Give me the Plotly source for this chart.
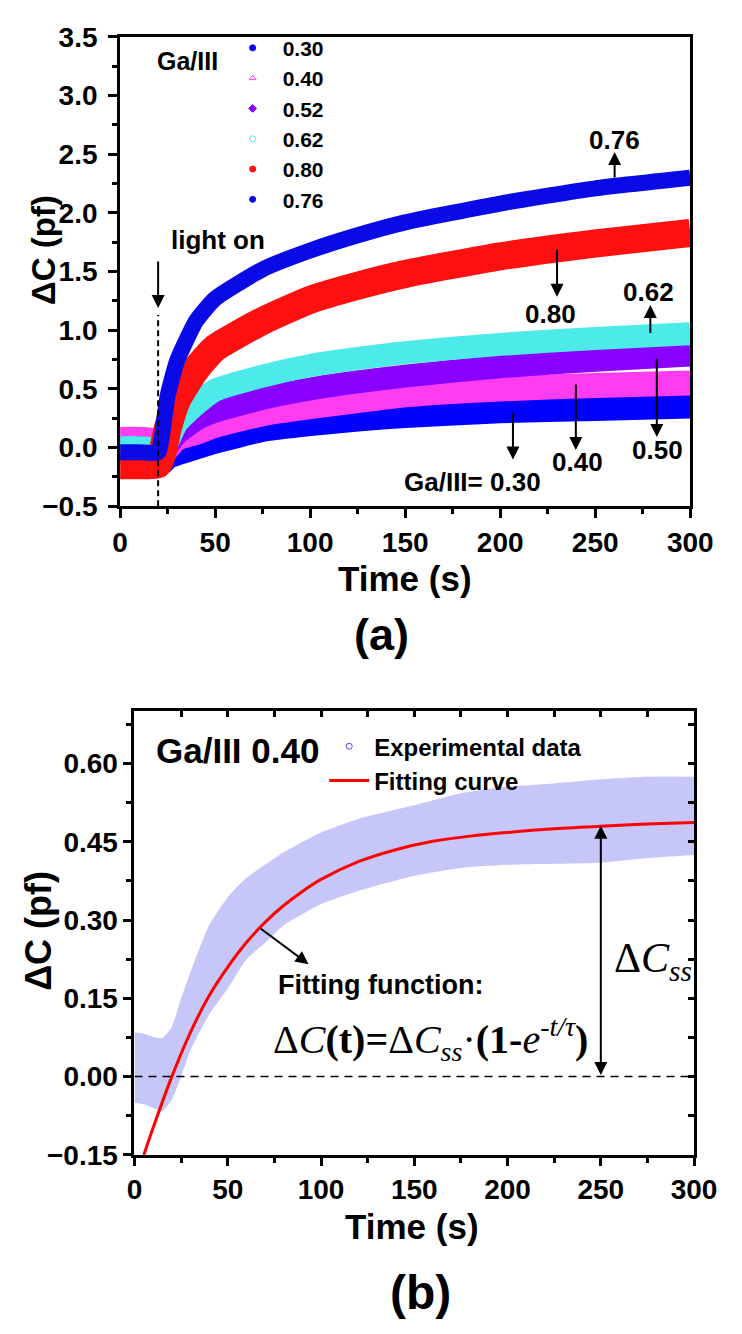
import plotly.graph_objects as go

W, H = 742, 1334

# ---------------- Panel (a): capacitance transients for several Ga/III ratios
time_a = [0, 10, 20, 22, 25, 30, 40, 50, 75, 100, 125, 150, 200, 250, 300]
dc_030 = [-0.04, -0.04, -0.06, -0.13, -0.08, -0.05, 0.00, 0.05, 0.15, 0.20, 0.24, 0.27, 0.31, 0.33, 0.35]
dc_040 = [0.07, 0.07, 0.05, -0.06, 0.00, 0.08, 0.13, 0.19, 0.29, 0.35, 0.40, 0.45, 0.50, 0.53, 0.55]
dc_052 = [0.00, 0.00, -0.05, -0.08, 0.02, 0.12, 0.24, 0.31, 0.42, 0.50, 0.56, 0.61, 0.69, 0.745, 0.79]
dc_062 = [0.00, 0.00, -0.02, -0.05, 0.05, 0.215, 0.37, 0.49, 0.61, 0.70, 0.76, 0.81, 0.88, 0.93, 0.97]
dc_080 = [-0.15, -0.15, -0.14, -0.06, 0.16, 0.41, 0.67, 0.85, 1.08, 1.26, 1.38, 1.48, 1.63, 1.74, 1.83]
dc_076 = [-0.04, -0.04, -0.04, 0.10, 0.44, 0.74, 1.08, 1.27, 1.52, 1.68, 1.81, 1.92, 2.08, 2.21, 2.30]

series_a = [
    ("0.30", dc_030, "#0000ff", "circle", 24),
    ("0.40", dc_040, "#ff3cf0", "triangle-up-open", 25),
    ("0.52", dc_052, "#8a00ff", "diamond", 23),
    ("0.62", dc_062, "#4deaea", "circle-open", 23),
    ("0.80", dc_080, "#ff1010", "circle", 28),
    ("0.76", dc_076, "#0a0ae6", "circle", 16),
]

# ---------------- Panel (b): Ga/III = 0.40 transient with exponential fit
time_b = [0, 5, 10, 15, 20, 25, 30, 40, 50, 60, 70, 80, 100, 120, 150, 175, 200, 225, 250, 275, 300]
exp_hi = [0.085, 0.082, 0.076, 0.074, 0.095, 0.150, 0.200, 0.290, 0.344, 0.381, 0.406, 0.430, 0.468,
          0.494, 0.520, 0.543, 0.556, 0.562, 0.570, 0.575, 0.575]
exp_lo = [-0.050, -0.053, -0.060, -0.066, -0.045, 0.000, 0.050, 0.119, 0.169, 0.225, 0.256, 0.290,
          0.331, 0.356, 0.385, 0.400, 0.406, 0.408, 0.410, 0.419, 0.425]
time_fit = [5, 10, 20, 30, 40, 50, 60, 70, 80, 90, 100, 120, 140, 160, 180, 200, 225, 250, 275, 300]
dc_fit = [-0.150, -0.098, 0.000, 0.085, 0.155, 0.210, 0.257, 0.296, 0.328, 0.355, 0.378, 0.412,
          0.435, 0.451, 0.461, 0.468, 0.475, 0.480, 0.484, 0.487]

FONT = "Liberation Sans"
SERIF = "Liberation Serif"


def px(x):
    return x / W


def py(y):
    return 1 - y / H


fig = go.Figure()

# bands of panel (a)
for name, vals, color, sym, width in series_a:
    fig.add_trace(go.Scatter(
        x=time_a, y=vals, mode="lines", xaxis="x", yaxis="y",
        line=dict(color=color, width=width, shape="spline", smoothing=0.5),
        showlegend=False, hoverinfo="skip"))

# legend entries of panel (a)
for name, vals, color, sym, width in series_a:
    fig.add_trace(go.Scatter(
        x=[None], y=[None], mode="markers", name=name, xaxis="x", yaxis="y",
        marker=dict(color=color, symbol=sym, size=6, line=dict(color=color, width=1)),
        legend="legend"))

# panel (b): experimental scatter band
fig.add_trace(go.Scatter(
    x=time_b, y=exp_lo, mode="lines", xaxis="x2", yaxis="y2",
    line=dict(width=0, shape="spline", smoothing=0.5), showlegend=False, hoverinfo="skip"))
fig.add_trace(go.Scatter(
    x=time_b, y=exp_hi, mode="lines", xaxis="x2", yaxis="y2", fill="tonexty",
    fillcolor="rgba(120,120,238,0.42)",
    line=dict(width=0, shape="spline", smoothing=0.5), showlegend=False, hoverinfo="skip"))
fig.add_trace(go.Scatter(
    x=[None], y=[None], mode="markers", name="Experimental data", xaxis="x2", yaxis="y2",
    marker=dict(symbol="circle-open", color="#4b4bf0", size=6, line=dict(width=1)),
    legend="legend2"))
fig.add_trace(go.Scatter(
    x=time_fit, y=dc_fit, mode="lines", name="Fitting curve", xaxis="x2", yaxis="y2",
    line=dict(color="#ff0000", width=3, shape="spline"), legend="legend2"))
# carrier for the inner tick axes of panel (b)
fig.add_trace(go.Scatter(x=[None], y=[None], xaxis="x3", yaxis="y3", showlegend=False,
                         hoverinfo="skip"))

tick_a = dict(family=FONT, size=28, color="black", weight="bold")
tick_b = dict(family=FONT, size=28, color="black", weight="bold")
axis_common = dict(showgrid=False, zeroline=False, showline=True, linecolor="black",
                   linewidth=3, ticks="outside", tickcolor="black", tickwidth=2.5)

fig.update_layout(
    width=W, height=H, margin=dict(l=0, r=0, t=0, b=0),
    paper_bgcolor="white", plot_bgcolor="white",
    font=dict(family=FONT, color="black", weight="bold"),
    xaxis=dict(domain=[px(117), px(712)], range=[0, 300], anchor="y", dtick=50, tick0=0,
               ticklen=9, mirror=True, tickfont=tick_a,
               minor=dict(dtick=25, tick0=0, ticklen=5, ticks="outside", tickwidth=2.5,
                          tickcolor="black"),
               **axis_common),
    yaxis=dict(domain=[py(503), py(22.5)], range=[-0.5, 3.5], anchor="x", dtick=0.5, tick0=0,
               tickformat=".1f", ticklen=9, mirror=True, tickfont=tick_a, ticklabelstandoff=5,
               minor=dict(dtick=0.25, tick0=0, ticklen=5, ticks="outside", tickwidth=2.5,
                          tickcolor="black"),
               **axis_common),
    xaxis2=dict(domain=[px(132), px(716)], range=[0, 300], anchor="y2", dtick=50, tick0=0,
                ticklen=8, mirror=True, tickfont=tick_b,
                minor=dict(dtick=25, tick0=0, ticklen=5, ticks="outside", tickwidth=2.5,
                           tickcolor="black"),
                **axis_common),
    yaxis2=dict(domain=[py(1167), py(713)], range=[-0.15, 0.70], anchor="x2", dtick=0.15,
                tick0=0, tickformat=".2f", ticklen=8, mirror=True, tickfont=tick_b,
                minor=dict(dtick=0.075, tick0=0, ticklen=5, ticks="outside", tickwidth=2.5,
                           tickcolor="black"),
                **axis_common),
    xaxis3=dict(overlaying="x2", anchor="y2", side="top", range=[0, 300], dtick=25, tick0=0,
                ticks="inside", ticklen=6, tickwidth=2.5, tickcolor="black",
                showticklabels=False, showline=False, showgrid=False, zeroline=False),
    yaxis3=dict(overlaying="y2", anchor="x2", side="right", range=[-0.15, 0.70], dtick=0.075,
                tick0=0, ticks="inside", ticklen=6, tickwidth=2.5, tickcolor="black",
                showticklabels=False, showline=False, showgrid=False, zeroline=False),
    legend=dict(x=px(224), y=py(13), xanchor="left", yanchor="top", bgcolor="rgba(0,0,0,0)",
                font=dict(family=FONT, size=21, color="black", weight="bold"),
                itemwidth=50, tracegroupgap=0, traceorder="normal"),
    legend2=dict(x=px(330), y=py(726), xanchor="left", yanchor="top",
                 bgcolor="rgba(0,0,0,0)", tracegroupgap=0, traceorder="normal",
                 font=dict(family=FONT, size=24, color="black", weight="bold"),
                 itemwidth=40),
)

arrow = dict(showarrow=True, arrowhead=2, arrowsize=1.3, arrowwidth=2, arrowcolor="black",
             text="")

ann = []
# panel (a): light-on marker and curve labels
ann.append(dict(xref="x", yref="y", axref="x", ayref="y", x=20, y=1.19, ax=20, ay=1.60, **arrow))
for xh, yh, yt in [(260.2, 2.52, 2.29), (229.9, 1.285, 1.70), (279, 1.215, 0.965),
                   (282.4, 0.09, 0.77), (239.8, -0.02, 0.55), (206.7, -0.10, 0.31)]:
    ann.append(dict(xref="x", yref="y", axref="x", ayref="y", x=xh, y=yh, ax=xh, ay=yt, **arrow))

lbl_a = dict(family=FONT, size=26, color="black", weight="bold")
for txt, xv, yv in [("0.76", 260, 2.62), ("0.80", 226.5, 1.14), ("0.62", 278, 1.33),
                    ("0.50", 283, -0.02), ("0.40", 240.8, -0.12), ("Ga/III= 0.30", 185.4, -0.29)]:
    ann.append(dict(xref="x", yref="y", x=xv, y=yv, text=txt, showarrow=False, font=lbl_a,
                    xanchor="center", yanchor="middle"))
ann.append(dict(xref="x", yref="y", x=25.5, y=1.77, text="light on", showarrow=False,
                xanchor="left", yanchor="middle", font=lbl_a))
ann.append(dict(xref="paper", yref="paper", x=px(153), y=py(46.7), text="Ga/III",
                showarrow=False, xanchor="left", yanchor="middle",
                font=dict(family=FONT, size=25, weight="bold")))

# panel (a) axis titles and caption
ann.append(dict(xref="paper", yref="paper", x=px(414), y=py(577), text="Time (s)",
                showarrow=False, xanchor="center", yanchor="middle",
                font=dict(family=FONT, size=35, weight="bold")))
ann.append(dict(xref="paper", yref="paper", x=px(37), y=py(240), text="ΔC (pf)",
                showarrow=False, textangle=-90, xanchor="center", yanchor="middle",
                font=dict(family=FONT, size=33, weight="bold")))
ann.append(dict(xref="paper", yref="paper", x=px(390), y=py(634), text="(a)",
                showarrow=False, xanchor="center", yanchor="middle",
                font=dict(family=FONT, size=45, weight="bold")))

# panel (b) annotations
ann.append(dict(xref="x2", yref="y2", x=10.3, y=0.626, text="Ga/III 0.40", showarrow=False,
                xanchor="left", yanchor="middle", font=dict(family=FONT, size=35, weight="bold")))
ann.append(dict(xref="x2", yref="y2", axref="x2", ayref="y2", x=93.3, y=0.2156, ax=66.8,
                ay=0.286, **arrow))
ann.append(dict(xref="x2", yref="y2", x=76, y=0.176, text="Fitting function:",
                showarrow=False, xanchor="left", yanchor="middle",
                font=dict(family=FONT, size=27, weight="bold")))
ann.append(dict(xref="x2", yref="y2", x=73.4, y=0.072, showarrow=False, xanchor="left",
                yanchor="middle",
                text="Δ<i>C</i><b>(t)=</b>Δ<i>C</i><sub><i>ss</i></sub>·<b>(1-</b><i>e</i>"
                     "<sup><i>-t/τ</i></sup><b>)</b>",
                font=dict(family=SERIF, size=40, color="black", weight="normal")))
ann.append(dict(xref="x2", yref="y2", axref="x2", ayref="y2", x=250, y=0.481, ax=250, ay=0.0,
                arrowside="end+start", startarrowhead=2, startarrowsize=1.3,
                **arrow))
ann.append(dict(xref="x2", yref="y2", x=256, y=0.222, showarrow=False, xanchor="left",
                yanchor="middle", text="Δ<i>C</i><sub><i>ss</i></sub>",
                font=dict(family=SERIF, size=42, color="black", weight="normal")))
ann.append(dict(xref="paper", yref="paper", x=px(422), y=py(1240), text="Time (s)",
                showarrow=False, xanchor="center", yanchor="middle",
                font=dict(family=FONT, size=35, weight="bold")))
ann.append(dict(xref="paper", yref="paper", x=px(32), y=py(938), text="ΔC (pf)",
                showarrow=False, textangle=-90, xanchor="center", yanchor="middle",
                font=dict(family=FONT, size=36, weight="bold")))
ann.append(dict(xref="paper", yref="paper", x=px(430), y=py(1308), text="(b)",
                showarrow=False, xanchor="center", yanchor="middle",
                font=dict(family=FONT, size=48, weight="bold")))

fig.update_layout(annotations=ann)

shapes = [
    dict(type="line", xref="x", yref="y", x0=20, x1=20, y0=-0.5, y1=1.13,
         line=dict(color="black", width=2, dash="6px,4px")),
    dict(type="line", xref="x2", yref="y2", x0=0, x1=300, y0=0, y1=0,
         line=dict(color="black", width=1.5, dash="8px,6px")),
]
fig.update_layout(shapes=shapes)

fig.write_html("out.html")
